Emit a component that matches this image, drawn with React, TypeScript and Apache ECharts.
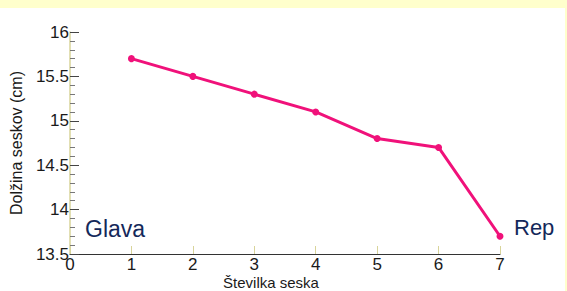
import React, { useEffect, useRef } from "react";
import * as echarts from "echarts";

const teatNumbers = [1, 2, 3, 4, 5, 6, 7];
const teatLengths = [15.7, 15.5, 15.3, 15.1, 14.8, 14.7, 13.7];
const xAxisTitle = "Številka seska";
const yAxisTitle = "Dolžina seskov (cm)";
const headLabel = "Glava";
const tailLabel = "Rep";

export default function App() {
  const ref = useRef<HTMLDivElement>(null);
  useEffect(() => {
    if (!ref.current) return;
    const chart = echarts.init(ref.current, null, { renderer: "svg" });
    const font = "Liberation Sans, Arial, Helvetica, sans-serif";
    chart.setOption({
      animation: false,
      backgroundColor: "#ffffff",
      textStyle: { fontFamily: font },
      grid: { left: 68, right: 67, top: 32, bottom: 37, containLabel: false },
      xAxis: {
        type: "value",
        min: 0,
        max: 7,
        interval: 1,
        axisLine: { show: true, lineStyle: { color: "#333333", width: 1 } },
        axisTick: { show: true, inside: true, length: 8, lineStyle: { color: "#d8d49a", width: 1 } },
        axisLabel: { color: "#1a1a1a", fontSize: 17, lineHeight: 13, margin: 4, fontFamily: font },
        splitLine: { show: false },
      },
      yAxis: {
        type: "value",
        min: 13.5,
        max: 16,
        interval: 0.5,
        axisLine: { show: true, lineStyle: { color: "#d8d49a", width: 1.5 } },
        axisTick: { show: true, inside: true, length: 9, lineStyle: { color: "#444444", width: 1 } },
        minorTick: { show: true, splitNumber: 5, length: 5, lineStyle: { color: "#777777", width: 1 } },
        axisLabel: {
          color: "#1a1a1a",
          fontSize: 17,
          lineHeight: 13,
          margin: 1,
          fontFamily: font,
          formatter: (v: number) => String(Math.round(v * 10) / 10),
        },
        splitLine: { show: false },
        name: yAxisTitle,
        nameLocation: "middle",
        nameGap: 46,
        nameTextStyle: { color: "#1a1a1a", fontSize: 16, fontFamily: font },
      },
      graphic: [
        { type: "rect", left: 0, top: 0, shape: { width: 567, height: 8 }, style: { fill: "#ffffcc" }, silent: true },
        { type: "rect", left: 565, top: 0, shape: { width: 2, height: 291 }, style: { fill: "#ffffcc" }, silent: true },
        {
          type: "text",
          x: 271,
          y: 282,
          style: { text: xAxisTitle, fill: "#1a1a1a", font: `15px ${font}`, align: "center", verticalAlign: "middle" },
        },
        {
          type: "text",
          x: 85,
          y: 229,
          style: { text: headLabel, fill: "#14285a", font: `23px ${font}`, align: "left", verticalAlign: "middle" },
        },
        {
          type: "text",
          x: 514,
          y: 227,
          style: { text: tailLabel, fill: "#14285a", font: `22px ${font}`, align: "left", verticalAlign: "middle" },
        },
      ],
      series: [
        {
          type: "line",
          data: teatNumbers.map((x, i) => [x, teatLengths[i]]),
          symbol: "circle",
          symbolSize: 7,
          lineStyle: { color: "#f0117a", width: 3 },
          itemStyle: { color: "#f0117a" },
          clip: false,
        },
      ],
    });
    return () => chart.dispose();
  }, []);
  return (
    <div
      ref={ref}
      style={{ position: "fixed", left: 0, top: 0, width: 567, height: 291 }}
    />
  );
}
